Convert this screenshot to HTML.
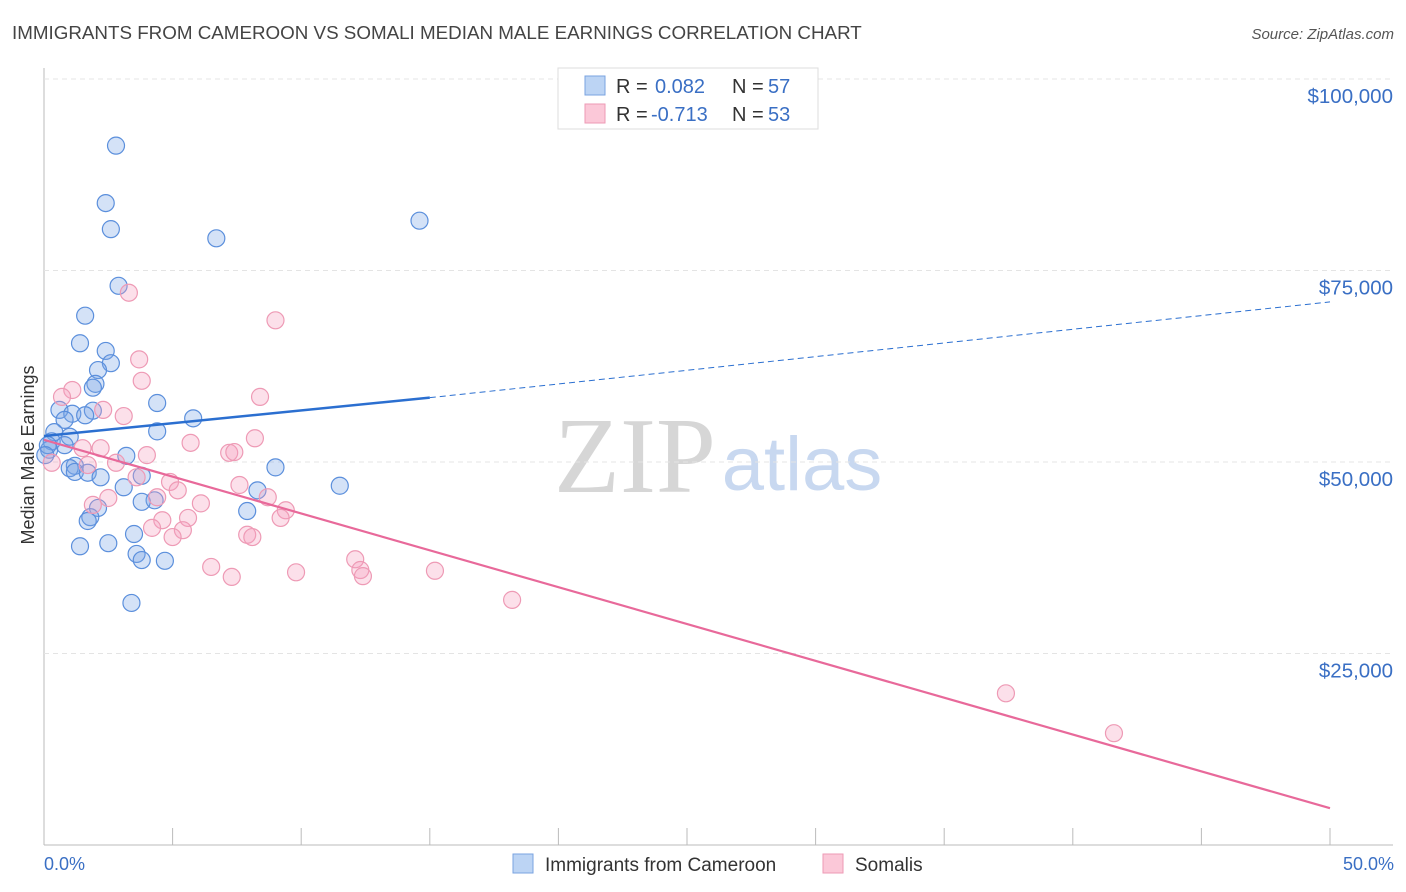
<!DOCTYPE html>
<html><head><meta charset="utf-8"><style>
body{margin:0;background:#fff;font-family:"Liberation Sans",sans-serif}
svg{display:block}
</style></head><body>
<svg id="c" width="1406" height="892" xmlns="http://www.w3.org/2000/svg">
<text x="12" y="39" font-size="18.8" fill="#444">IMMIGRANTS FROM CAMEROON VS SOMALI MEDIAN MALE EARNINGS CORRELATION CHART</text>
<text x="1394" y="39" font-size="15" fill="#555" font-style="italic" text-anchor="end">Source: ZipAtlas.com</text>
<text x="635" y="492" font-size="108" fill="#d6d6d6" font-family="Liberation Serif,serif" text-anchor="middle">ZIP</text>
<text x="802" y="490" font-size="76" fill="#c8d8f0" text-anchor="middle">atlas</text>
<g id="grid"></g><g id="pts"></g><g id="lines"></g>
<text transform="translate(34,455) rotate(-90)" font-size="18" fill="#333" text-anchor="middle">Median Male Earnings</text>
<text x="44" y="870" font-size="18" fill="#3a6fc4">0.0%</text>
<text x="1394" y="870" font-size="18" fill="#3a6fc4" text-anchor="end">50.0%</text>
<g>
<rect x="558" y="68" width="260" height="61" fill="#fff" stroke="#ddd"/>
<rect x="585" y="76" width="20" height="19" fill="#bcd4f4" stroke="#7aa3e0"/>
<rect x="585" y="104" width="20" height="19" fill="#fbc8d8" stroke="#ee9ab5"/>
<text x="616" y="93" font-size="20" fill="#333">R =</text>
<text x="655" y="93" font-size="20" fill="#3a6fc4">0.082</text>
<text x="732" y="93" font-size="20" fill="#333">N =</text>
<text x="768" y="93" font-size="20" fill="#3a6fc4">57</text>
<text x="616" y="121" font-size="20" fill="#333">R =</text>
<text x="651" y="121" font-size="20" fill="#3a6fc4">-0.713</text>
<text x="732" y="121" font-size="20" fill="#333">N =</text>
<text x="768" y="121" font-size="20" fill="#3a6fc4">53</text>
</g>
<g>
<rect x="513" y="854" width="20" height="19" fill="#bcd4f4" stroke="#7aa3e0"/>
<text x="545" y="871" font-size="19" fill="#333">Immigrants from Cameroon</text>
<rect x="823" y="854" width="20" height="19" fill="#fbc8d8" stroke="#ee9ab5"/>
<text x="855" y="871" font-size="19" fill="#333">Somalis</text>
</g>
</svg>
<script>
const yTicks=[25000,50000,75000,100000];
const yTickLabels=["$25,000","$50,000","$75,000","$100,000"];
const xTicks=[0,5,10,15,20,25,30,35,40,45,50];
const blueX=[2.8,2.4,2.6,6.7,14.6,2.9,1.6,1.4,2.4,2.6,2.1,2.0,1.9,4.4,0.6,1.1,1.9,1.6,0.8,5.8,4.4,0.4,1.0,0.3,0.8,0.2,3.2,1.2,9.0,1.0,1.2,1.7,2.2,3.8,3.1,8.3,11.5,4.3,3.8,2.1,7.9,1.8,1.7,3.5,1.4,2.5,3.6,3.8,4.7,3.4,0.15,0.05];
const blueY=[91.3,83.8,80.4,79.2,81.5,73.0,69.1,65.5,64.5,62.9,62.0,60.2,59.7,57.7,56.8,56.3,56.7,56.1,55.5,55.7,54.0,53.9,53.3,52.7,52.2,51.6,50.8,49.5,49.3,49.2,48.7,48.6,48.0,48.2,46.7,46.3,46.9,45.0,44.8,44.0,43.6,42.8,42.3,40.6,39.0,39.4,38.0,37.2,37.1,31.6,52.2,50.9];
const pinkX=[3.3,9.0,3.7,3.8,1.1,0.7,8.4,2.3,3.1,5.7,8.2,7.2,7.4,4.0,2.2,1.5,2.8,1.7,0.3,3.6,4.9,5.2,7.6,8.7,4.4,2.5,6.1,1.9,9.4,9.2,5.6,4.6,4.2,5.4,5.0,7.9,8.1,6.5,7.3,9.8,12.1,12.3,12.4,15.2,18.2,37.4,41.6];
const pinkY=[72.1,68.5,63.4,60.6,59.4,58.5,58.5,56.8,56.0,52.5,53.1,51.2,51.3,50.9,51.8,51.8,49.9,49.6,49.9,48.0,47.4,46.3,47.0,45.4,45.4,45.3,44.6,44.4,43.7,42.7,42.7,42.4,41.4,41.1,40.2,40.5,40.2,36.3,35.0,35.6,37.3,35.9,35.1,35.8,32.0,19.8,14.6];
const blueLine=[[0,53.4],[15,58.4],[50,70.9]];
const pinkLine=[[0,52.9],[50,4.8]];
const X=v=>44+v*25.72, Y=k=>845-k*7.66;
const NS="http://www.w3.org/2000/svg";
function mk(t,a,p){const e=document.createElementNS(NS,t);for(const k in a)e.setAttribute(k,a[k]);p.appendChild(e);return e;}
const g=document.getElementById('grid');
let e=mk('line',{x1:44,y1:68,x2:44,y2:845,stroke:'#bbb'},g);


e=mk('line',{x1:44,y1:845,x2:1393,y2:845,stroke:'#bbb'},g);


yTicks.forEach((v,i)=>{
 const y=Y(v/1000);
 let l=mk('line',{x1:44,y1:y,x2:1393,y2:y,stroke:'#e4e4e4','stroke-dasharray':'5,4'},g);
 
 
 let t=mk('text',{x:1393,y:y+24,'font-size':20.5,fill:'#3a6fc4','text-anchor':'end'},g);
 t.textContent=yTickLabels[i];
 
 
});
xTicks.forEach(v=>{
 let l=mk('line',{x1:X(v),y1:828,x2:X(v),y2:845,stroke:'#bbb'},g);
 
 
});
const p=document.getElementById('pts');
blueX.forEach((x,i)=>{
 let c=mk('circle',{cx:X(x),cy:Y(blueY[i]),r:8.5,fill:'rgba(120,165,230,0.32)',stroke:'#5b8fdc','stroke-width':1.2},p);
 
 
});
pinkX.forEach((x,i)=>{
 let c=mk('circle',{cx:X(x),cy:Y(pinkY[i]),r:8.5,fill:'rgba(245,160,190,0.32)',stroke:'#ee9ab5','stroke-width':1.2},p);
 
 
});
const L=document.getElementById('lines');
e=mk('line',{x1:X(blueLine[0][0]),y1:Y(blueLine[0][1]),x2:X(blueLine[1][0]),y2:Y(blueLine[1][1]),stroke:'#2b6fd0','stroke-width':2.5},L);


e=mk('line',{x1:X(blueLine[1][0]),y1:Y(blueLine[1][1]),x2:X(blueLine[2][0]),y2:Y(blueLine[2][1]),stroke:'#2b6fd0','stroke-width':1,'stroke-dasharray':'6,4'},L);


e=mk('line',{x1:X(pinkLine[0][0]),y1:Y(pinkLine[0][1]),x2:X(pinkLine[1][0]),y2:Y(pinkLine[1][1]),stroke:'#e8699a','stroke-width':2.2},L);


</script>
</body></html>
